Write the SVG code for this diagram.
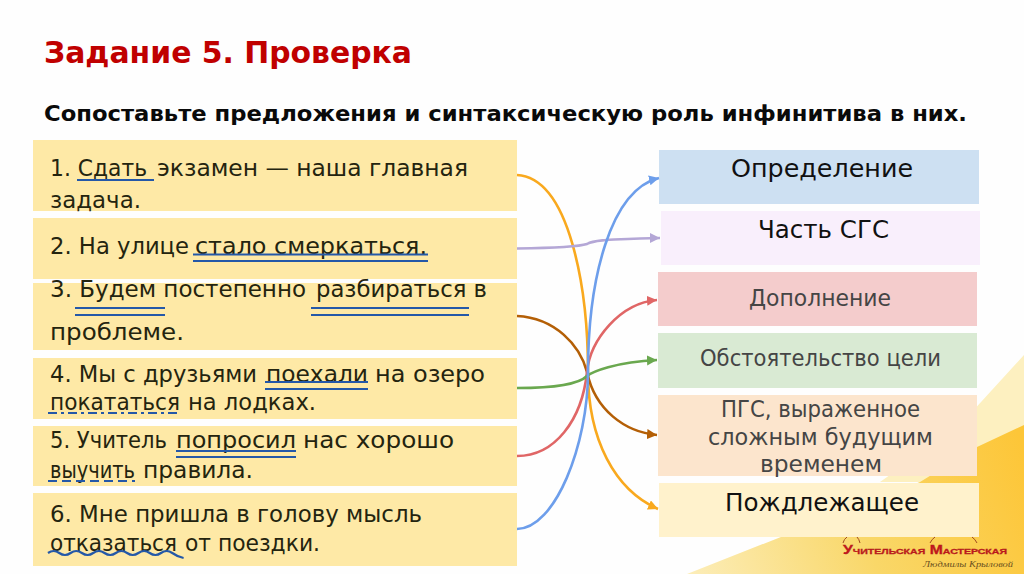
<svg xmlns="http://www.w3.org/2000/svg" width="1024" height="574" viewBox="0 0 1024 574">
<defs>
<style>
text{font-family:"DejaVu Sans","Liberation Sans",sans-serif}
.t{font-size:23px;fill:#24240f}
.r{font-size:23px;fill:#454545}
.h{font-size:25px;fill:#111}
.c{fill:none;stroke-width:2.600}
.u{fill:none;stroke:#2458a8;stroke-width:2.200}
</style>
<linearGradient id="gold" gradientUnits="userSpaceOnUse" x1="690" y1="574" x2="1024" y2="450"><stop offset="0" stop-color="#fcedb8"/><stop offset="0.5" stop-color="#f9d768"/><stop offset="1" stop-color="#fdc638"/></linearGradient>
<marker id="aBlue" markerWidth="11" markerHeight="11" refX="10" refY="5" orient="auto" markerUnits="userSpaceOnUse"><path d="M0,0L10,5L0,10z" fill="#6d9eeb"/></marker>
<marker id="aPurple" markerWidth="11" markerHeight="11" refX="10" refY="5" orient="auto" markerUnits="userSpaceOnUse"><path d="M0,0L10,5L0,10z" fill="#b4a7d6"/></marker>
<marker id="aRed" markerWidth="11" markerHeight="11" refX="10" refY="5" orient="auto" markerUnits="userSpaceOnUse"><path d="M0,0L10,5L0,10z" fill="#e06666"/></marker>
<marker id="aGreen" markerWidth="11" markerHeight="11" refX="10" refY="5" orient="auto" markerUnits="userSpaceOnUse"><path d="M0,0L10,5L0,10z" fill="#6aa84f"/></marker>
<marker id="aBrown" markerWidth="11" markerHeight="11" refX="10" refY="5" orient="auto" markerUnits="userSpaceOnUse"><path d="M0,0L10,5L0,10z" fill="#b45f06"/></marker>
<marker id="aOrange" markerWidth="11" markerHeight="11" refX="10" refY="5" orient="auto" markerUnits="userSpaceOnUse"><path d="M0,0L10,5L0,10z" fill="#f9a91e"/></marker>
</defs>
<rect width="1024" height="574" fill="#fefefe"/>
<path d="M1024,355L960,425L880,482H1024z" fill="#fdf0c0"/>
<path d="M687,574L920,482L977,447L1024,425V574z" fill="url(#gold)"/>

<text x="44" y="63" font-size="30" font-weight="700" fill="#c00000" textLength="368" lengthAdjust="spacingAndGlyphs">Задание 5. Проверка</text>
<text x="44" y="121" font-size="22" font-weight="700" fill="#0a0a0a" textLength="923" lengthAdjust="spacingAndGlyphs">Сопоставьте предложения и синтаксическую роль инфинитива в них.</text>

<g id="s1"><rect x="33" y="140" width="484" height="71" fill="#fee9a6"/>
<text class="t" x="50" y="176" textLength="97" lengthAdjust="spacingAndGlyphs">1. Сдать</text>
<text class="t" x="157" y="176" textLength="311" lengthAdjust="spacingAndGlyphs">экзамен — наша главная</text>
<text class="t" x="50" y="208" textLength="91" lengthAdjust="spacingAndGlyphs">задача.</text>
<path class="u" d="M77,180H154"/></g>
<g id="s2"><rect x="33" y="218" width="484" height="61" fill="#fee9a6"/>
<text class="t" x="50" y="254" textLength="139" lengthAdjust="spacingAndGlyphs">2. На улице</text>
<text class="t" x="195" y="254" textLength="232" lengthAdjust="spacingAndGlyphs">стало смеркаться.</text>
<path class="u" d="M193,254.500H428M193,261H428"/></g>
<g id="s3"><rect x="33" y="283" width="484" height="67" fill="#fee9a6"/>
<text class="t" x="50" y="297" textLength="256" lengthAdjust="spacingAndGlyphs">3. Будем постепенно</text>
<text class="t" x="316" y="297" textLength="171" lengthAdjust="spacingAndGlyphs">разбираться в</text>
<text class="t" x="50" y="340" textLength="134" lengthAdjust="spacingAndGlyphs">проблеме.</text>
<path class="u" d="M75,308H165M75,315H165M311,308H469M311,315H469"/></g>
<g id="s4"><rect x="33" y="358" width="484" height="61" fill="#fee9a6"/>
<text class="t" x="50" y="382" textLength="207" lengthAdjust="spacingAndGlyphs">4. Мы с друзьями</text>
<text class="t" x="266" y="382" textLength="102" lengthAdjust="spacingAndGlyphs">поехали</text>
<text class="t" x="375" y="382" textLength="110" lengthAdjust="spacingAndGlyphs">на озеро</text>
<text class="t" x="50" y="410" textLength="130" lengthAdjust="spacingAndGlyphs">покататься</text>
<text class="t" x="188" y="410" textLength="128" lengthAdjust="spacingAndGlyphs">на лодках.</text>
<path class="u" d="M265,382H368M265,389H368"/>
<path class="u" d="M48,413H180" stroke-dasharray="9 4 3 4"/></g>
<g id="s5"><rect x="33" y="426" width="484" height="60" fill="#fee9a6"/>
<text class="t" x="50" y="448" textLength="117" lengthAdjust="spacingAndGlyphs">5. Учитель</text>
<text class="t" x="176" y="448" textLength="120" lengthAdjust="spacingAndGlyphs">попросил</text>
<text class="t" x="303" y="448" textLength="151" lengthAdjust="spacingAndGlyphs">нас хорошо</text>
<text class="t" x="50" y="478" textLength="85" lengthAdjust="spacingAndGlyphs">выучить</text>
<text class="t" x="143" y="478" textLength="110" lengthAdjust="spacingAndGlyphs">правила.</text>
<path class="u" d="M176,451H296M176,457H296"/>
<path class="u" d="M48,481H135" stroke-dasharray="9 5"/></g>
<g id="s6"><rect x="33" y="493" width="484" height="73" fill="#fee9a6"/>
<text class="t" x="50" y="522" textLength="372" lengthAdjust="spacingAndGlyphs">6. Мне пришла в голову мысль</text>
<text class="t" x="50" y="551" textLength="127" lengthAdjust="spacingAndGlyphs">отказаться</text>
<text class="t" x="185" y="551" textLength="135" lengthAdjust="spacingAndGlyphs">от поездки.</text>
<path class="u" d="M48,553q5.600,-4 11.300,0t11.300,0t11.300,0t11.300,0t11.300,0t11.300,0t11.300,0t11.300,0t11.300,0t11.300,0t11.300,0q5.600,4 11.300,5"/></g>

<g id="r1"><rect x="659" y="150" width="320" height="54" fill="#cde0f2"/>
<text class="h" x="731" y="177" textLength="182" lengthAdjust="spacingAndGlyphs">Определение</text></g>
<g id="r2"><rect x="661" y="211" width="319" height="54" fill="#f9effc"/>
<text class="h" x="758" y="238" textLength="131" lengthAdjust="spacingAndGlyphs">Часть СГС</text></g>
<g id="r3"><rect x="658" y="272" width="319" height="54" fill="#f4cccc"/>
<text class="r" x="749" y="306" textLength="142" lengthAdjust="spacingAndGlyphs">Дополнение</text></g>
<g id="r4"><rect x="658" y="333" width="319" height="55" fill="#d9ead3"/>
<text class="r" x="700" y="366" textLength="241" lengthAdjust="spacingAndGlyphs">Обстоятельство цели</text></g>
<g id="r5"><rect x="658" y="395" width="319" height="81" fill="#fce5cd"/>
<text class="r" x="721" y="417" textLength="199" lengthAdjust="spacingAndGlyphs">ПГС, выраженное</text>
<text class="r" x="708" y="445" textLength="225" lengthAdjust="spacingAndGlyphs">сложным будущим</text>
<text class="r" x="760" y="472" textLength="122" lengthAdjust="spacingAndGlyphs">временем</text></g>
<g id="r6"><rect x="659" y="483" width="320" height="54" fill="#fff2cc"/>
<text class="h" x="725" y="511" textLength="194" lengthAdjust="spacingAndGlyphs">Пождлежащее</text></g>

<g id="connectors">
<path class="c" stroke="#f9a91e" marker-end="url(#aOrange)" d="M517,175C570,178 588,290 588,372C588,440 615,490 658,509"/>
<path class="c" stroke="#b4a7d6" marker-end="url(#aPurple)" d="M517,248.500C550,248 578,247 587,244C592,241 596,241 606,240C625,239 640,238 660,238"/>
<path class="c" stroke="#b45f06" marker-end="url(#aBrown)" d="M517,316C555,318 580,345 587,372C595,410 625,432 657,435"/>
<path class="c" stroke="#e06666" marker-end="url(#aRed)" d="M517,456C555,456 582,420 587,372C590,340 620,303 657,300"/>
<path class="c" stroke="#6aa84f" marker-end="url(#aGreen)" d="M517,388C550,388 578,385 587,376C592,372 615,362 657,360"/>
<path class="c" stroke="#6d9eeb" marker-end="url(#aBlue)" d="M517,529C555,529 588,445 588,372C588,280 610,190 659,178"/>
</g>

<g id="logo">
<path d="M843,543Q844,539 847,537M857,537Q859,539 860,543M930,543Q932,539 935,537M972,537Q975,539 977,543" fill="none" stroke="#a04a20" stroke-width="1"/>
<text x="843" y="554" font-size="12" font-weight="700" fill="#c8141c" stroke="#a8201c" stroke-width=".3" textLength="164" lengthAdjust="spacingAndGlyphs" style="font-family:'Liberation Sans',sans-serif;font-variant:small-caps">Учительская Мастерская</text>
<text x="923" y="567" font-size="9" font-style="italic" fill="#6a5020" textLength="90" lengthAdjust="spacingAndGlyphs" style="font-family:'Liberation Serif',serif">Людмилы Крыловой</text>
</g>
</svg>
